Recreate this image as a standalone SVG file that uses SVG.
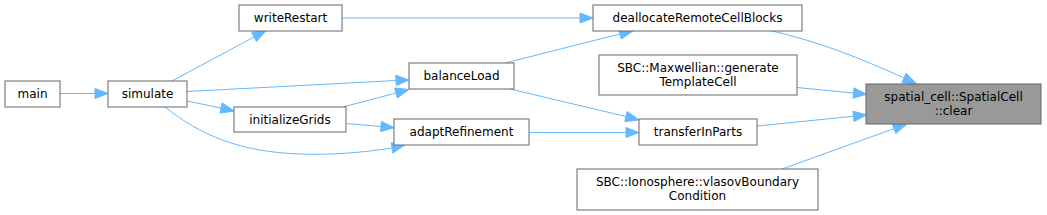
<svg xmlns="http://www.w3.org/2000/svg" width="1047" height="215" viewBox="0 0 1047 215">
<style>
.n rect{fill:#fff;stroke:#666;stroke-width:1}
.n.cur rect{fill:#999}
.n text{font-family:"DejaVu Sans",sans-serif;font-size:12px;fill:#000;text-anchor:middle}
.e path{fill:none;stroke:#63b8ff;stroke-width:1}
.e polygon{fill:#63b8ff;stroke:#63b8ff;stroke-width:1}
</style>
<rect width="1047" height="215" fill="#fff"/>
<g class="e" id="edges">
<path d="M60,93.5 L95,93.5"/><polygon points="95,88.5 108,93.5 95,98.5"/>
<path d="M172,81 L254,37"/><polygon points="251.6,32.4 266,30.7 256.4,41.6"/>
<path d="M187,91.5 L396,80.5"/><polygon points="395.7,75.2 409,80 396.3,85.6"/>
<path d="M187,101 L221,108"/><polygon points="222,102.9 234.3,111 220,113.1"/>
<path d="M165,107 C200,135 240,152 300,154 C330,155 360,153 392,148"/><polygon points="391.2,142.8 405,145 392.8,153.1"/>
<path d="M343,107 L396,93"/><polygon points="394.6,88 409,89.5 397.4,98"/>
<path d="M347,123.5 L381,126.5"/><polygon points="381.4,121.4 394.3,127.7 380.6,131.6"/>
<path d="M342,18 L580,18"/><polygon points="580,13 593,18 580,23"/>
<path d="M505,63 L620,34"/><polygon points="618.7,29 633,31 621.3,39"/>
<path d="M510,89 L626,116.5"/><polygon points="627.2,111.4 639,120 624.8,121.6"/>
<path d="M529,132.5 L626,132.5"/><polygon points="626,127.5 639,132.5 626,137.5"/>
<path d="M772,31 C820,42 860,58 904,78"/><polygon points="906.1,73.3 916.7,84 901.9,82.7"/>
<path d="M797,87.5 L853.5,93"/><polygon points="854,87.8 866.7,94.3 853,98.2"/>
<path d="M757,126 L853.5,116.3"/><polygon points="853,111.1 866.7,115 854,121.5"/>
<path d="M782,169 L894,128.7"/><polygon points="892.2,123.8 906.7,124.3 895.8,133.6"/>
</g>
<g class="n" id="main"><rect x="5" y="81" width="55" height="26"/><text x="32.5" y="98">main</text></g>
<g class="n" id="simulate"><rect x="108" y="81" width="79" height="26"/><text x="147.5" y="98">simulate</text></g>
<g class="n" id="writeRestart"><rect x="239" y="5" width="103" height="26"/><text x="290.5" y="22">writeRestart</text></g>
<g class="n" id="initializeGrids"><rect x="234" y="107" width="112" height="25"/><text x="290" y="124">initializeGrids</text></g>
<g class="n" id="balanceLoad"><rect x="409" y="63" width="105" height="26"/><text x="461.5" y="80">balanceLoad</text></g>
<g class="n" id="adaptRefinement"><rect x="394" y="119" width="135" height="26"/><text x="461.5" y="136">adaptRefinement</text></g>
<g class="n" id="deallocateRemoteCellBlocks"><rect x="593" y="5" width="209" height="26"/><text x="697.5" y="22">deallocateRemoteCellBlocks</text></g>
<g class="n" id="generateTemplateCell"><rect x="599" y="55" width="198" height="40"/><text x="698" y="72">SBC::Maxwellian::generate</text><text x="698" y="86">TemplateCell</text></g>
<g class="n" id="transferInParts"><rect x="639" y="119" width="118" height="26"/><text x="698" y="136">transferInParts</text></g>
<g class="n" id="vlasovBoundaryCondition"><rect x="577" y="169" width="241" height="41"/><text x="697.5" y="186">SBC::Ionosphere::vlasovBoundary</text><text x="697.5" y="200">Condition</text></g>
<g class="n cur" id="clear"><rect x="866" y="84" width="175" height="40"/><text x="953.5" y="101">spatial_cell::SpatialCell</text><text x="953.5" y="115">::clear</text></g>
</svg>
